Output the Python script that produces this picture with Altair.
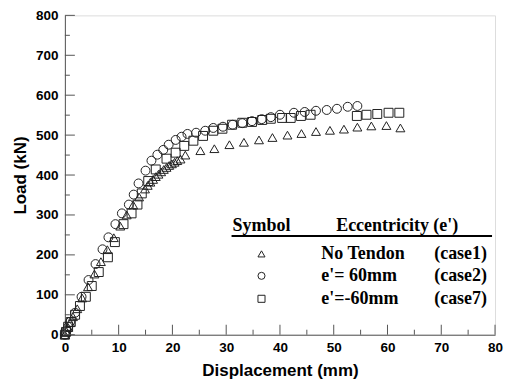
import altair as alt
import pandas as pd

# ---- data ----
case1_x = [0, 0.3, 0.6, 1.0, 1.5, 2.3, 3.2, 4.3, 5.5, 6.7, 7.9, 9.1, 10.3, 11.5, 12.7, 13.8,
           14.9, 15.4, 15.9, 16.4, 16.9, 17.4, 17.9, 18.4, 18.9, 19.4, 19.9, 20.4, 20.9, 21.5,
           22.4, 25.2, 27.8, 30.6, 33.3, 36.1, 38.6, 41.4, 44.0, 46.7, 49.3, 51.9, 54.4, 57.0,
           59.8, 62.4]
case1_y = [0, 8, 18, 30, 45, 65, 92, 120, 152, 183, 213, 243, 272, 300, 325, 345,
           365, 374, 382, 389, 396, 402, 408, 414, 419, 424, 428, 432, 436, 440,
           450, 461, 466, 476, 482, 488, 494, 500, 504, 509, 512, 515, 520, 523,
           524, 518]

case2_x = [0, 0.3, 0.6, 1.0, 1.9, 3.1, 4.4, 5.7, 7.0, 8.1, 9.4, 10.6, 11.9, 12.8, 13.7,
           15.0, 16.1, 17.2, 18.3, 19.3, 20.6, 21.7, 22.8, 24.4, 26.1, 27.6, 29.4, 31.2,
           33.0, 34.8, 36.6, 38.3, 40.0, 42.6, 44.6, 46.7, 48.7, 50.6, 52.6, 54.4]
case2_y = [0, 10, 20, 32, 55, 95, 137, 177, 214, 244, 277, 304, 326, 351, 379,
           411, 436, 451, 463, 476, 488, 496, 503, 506, 511, 518, 521, 526,
           530, 535, 540, 545, 551, 556, 558, 561, 563, 566, 571, 573]

case7_x = [0, 0.2, 0.6, 1.1, 1.9, 2.8, 3.9, 5.0, 6.3, 8.0, 9.3, 10.9, 12.4, 13.5, 14.3,
           15.5, 16.9, 18.9, 20.6, 22.2, 23.9, 25.7, 27.6, 29.3, 31.1, 33.0, 34.8, 36.7,
           38.3, 40.4, 42.0, 43.9, 45.7, 54.3, 56.1, 58.1, 60.2, 62.2]
case7_y = [0, 7, 20, 32, 50, 72, 95, 122, 157, 194, 232, 277, 304, 326, 354,
           385, 414, 441, 456, 473, 486, 498, 511, 516, 526, 531, 533, 538,
           541, 543, 543, 548, 551, 548, 551, 553, 556, 556]

series_names = ["No Tendon", "e'= 60mm", "e'=-60mm"]
case_labels = ["(case1)", "(case2)", "(case7)"]
shapes = ["triangle-up", "circle", "square"]

x_major = list(range(0, 81, 10))
x_minor = list(range(5, 80, 10))
y_major = list(range(0, 801, 100))
y_minor = list(range(50, 800, 100))

# ---- build table ----
rows = []
for name, xs_, ys_ in zip(series_names, [case1_x, case2_x, case7_x], [case1_y, case2_y, case7_y]):
    for a, b in zip(xs_, ys_):
        rows.append({"x": a, "y": b, "series": name})
df = pd.DataFrame(rows)

W, H = 431, 320
AX = "#555555"
xs = alt.Scale(domain=[0, 80], nice=False, zero=False)
ys = alt.Scale(domain=[0, 800], nice=False, zero=False)

sans = "Liberation Sans"
serif = "Liberation Serif"

xaxis = alt.Axis(
    values=x_major, ticks=False, tickSize=0, grid=False, domainColor=AX, domainWidth=1,
    labelFont=sans, labelFontWeight="bold", labelFontSize=13.5, labelColor="black",
    labelPadding=6, format="d", labelFlush=False,
    title="Displacement (mm)", titleFont=sans, titleFontSize=17, titleFontWeight="bold",
    titleColor="black", titlePadding=8)
yaxis = alt.Axis(
    values=y_major, ticks=False, tickSize=0, grid=False, domainColor=AX, domainWidth=1,
    labelFont=sans, labelFontWeight="bold", labelFontSize=13.5, labelColor="black",
    labelPadding=7, format="d", labelFlush=False,
    title="Load (kN)", titleFont=sans, titleFontSize=17, titleFontWeight="bold",
    titleColor="black", titlePadding=6)

points = alt.Chart(df).mark_point(filled=False, size=80, strokeWidth=1, color="#222222", opacity=1).encode(
    x=alt.X("x:Q", scale=xs, axis=xaxis),
    y=alt.Y("y:Q", scale=ys, axis=yaxis),
    shape=alt.Shape("series:N", scale=alt.Scale(domain=series_names, range=shapes), legend=None),
)

def xticks(vals, length):
    return alt.Chart(pd.DataFrame({"v": vals})).mark_rule(color=AX, strokeWidth=1).encode(
        x=alt.X("v:Q", scale=xs, axis=xaxis), y=alt.value(H), y2=alt.value(H - length))

def yticks(vals, length):
    return alt.Chart(pd.DataFrame({"v": vals})).mark_rule(color=AX, strokeWidth=1).encode(
        y=alt.Y("v:Q", scale=ys, axis=yaxis), x=alt.value(0), x2=alt.value(length))

layers = [points, xticks(x_major, 10), xticks(x_minor, 5), yticks(y_major, 10), yticks(y_minor, 5)]

# ---- custom legend ----
one = pd.DataFrame({"a": [0]})
FS = 18
layers.append(alt.Chart(one).mark_text(text="Symbol", font=serif, fontWeight="bold", fontSize=FS,
                                       align="left", baseline="alphabetic", color="black").encode(
    x=alt.value(168), y=alt.value(216)))
layers.append(alt.Chart(one).mark_text(text="Eccentricity (e')", font=serif, fontWeight="bold", fontSize=FS,
                                       align="center", baseline="alphabetic", color="black").encode(
    x=alt.value(333), y=alt.value(216)))
layers.append(alt.Chart(one).mark_rule(color="black", strokeWidth=2).encode(
    x=alt.value(167), x2=alt.value(428), y=alt.value(221)))

row_y = [239, 261, 284]
for name, case, shp, ry in zip(series_names, case_labels, shapes, row_y):
    layers.append(alt.Chart(one).mark_point(shape=shp, filled=False, size=50, strokeWidth=1,
                                            color="#222222", opacity=1).encode(
        x=alt.value(197), y=alt.value(ry)))
    layers.append(alt.Chart(one).mark_text(text=name, font=serif, fontWeight="bold", fontSize=FS,
                                           align="left", baseline="middle", color="black").encode(
        x=alt.value(257), y=alt.value(ry)))
    layers.append(alt.Chart(one).mark_text(text=case, font=serif, fontWeight="bold", fontSize=FS,
                                           align="right", baseline="middle", color="black").encode(
        x=alt.value(423), y=alt.value(ry)))

chart = alt.layer(*layers).properties(
    width=W, height=H,
    autosize=alt.AutoSizeParams(type="none"),
    padding={"left": 57, "top": 7, "right": 12, "bottom": 50},
).configure_view(stroke=None).configure(background="white")

chart.save("out.html", embed_options={"renderer": "svg", "actions": False})
